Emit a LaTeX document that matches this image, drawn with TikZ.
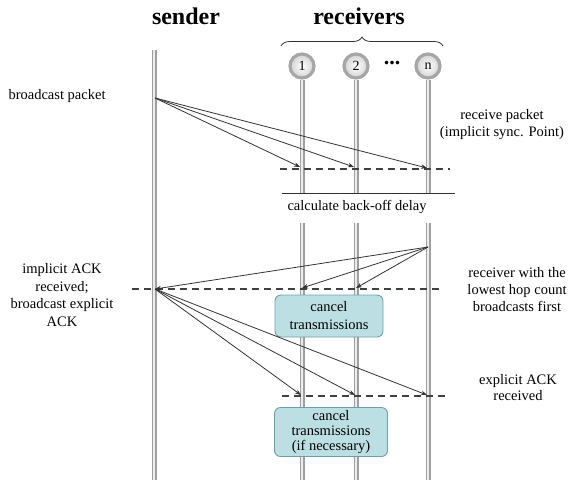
\documentclass[tikz,border=0pt]{standalone}
\usepackage{fontspec}
\setmainfont{Liberation Serif}
\usetikzlibrary{arrows.meta,decorations.pathreplacing}
\definecolor{boxfill}{HTML}{BCDFE3}
\definecolor{boxedge}{HTML}{6E9FA6}
\begin{document}
\begin{tikzpicture}[x=1pt,y=-1pt,
  font=\fontsize{14.5}{17}\selectfont,
  lifeline/.style={draw=gray!75, line width=1.5pt, double=gray!15, double distance=2pt},
  msg/.style={draw=black!80, line width=0.8pt, -{Stealth[length=6pt,width=4.5pt]}},
  sync/.style={draw=black!75, line width=1.6pt, dash pattern=on 7pt off 5pt},
  cbox/.style={draw=boxedge, fill=boxfill, line width=0.9pt, rounded corners=6pt, align=center, inner sep=1pt},
  note/.style={align=center},
  title/.style={font=\bfseries\fontsize{24}{26}\selectfont},
  rnode/.style={circle, minimum size=24pt, inner sep=0pt, draw=gray!70, line width=3.2pt, inner color=white, outer color=gray!35, font=\fontsize{14}{14}\selectfont}
]
\useasboundingbox (0,0) rectangle (569,480);

% titles
\node[title] (ts) at (186,16) {sender};
\node[title] (tr) at (359,16) {receivers};
\coordinate (brl) at (281,46);
\coordinate (brr) at (443,46);
\draw[decorate, decoration={brace, amplitude=9pt}, line width=0.8pt, draw=black!80] (brl) -- (brr);

% receiver nodes
\node[rnode] (r1) at (302,66) {1};
\node[rnode] (r2) at (356,66) {2};
\node[rnode] (rn) at (428,66) {n};
\node[font=\bfseries\fontsize{22}{22}\selectfont, inner sep=0pt] (dots) at (392,63) {...};

% lifelines
\coordinate (st) at (154,50);
\coordinate (sb) at (154,480);
\draw[lifeline] (st) -- (sb);
\foreach \r/\x in {r1/302, r2/356, rn/428}{
  \coordinate (\r a) at (\x,193);
  \coordinate (\r b) at (\x,223);
  \coordinate (\r z) at (\x,480);
  \draw[lifeline] (\r.south) -- (\r a);
  \draw[lifeline] (\r b) -- (\r z);
}

% calculate back-off delay
\coordinate (hl) at (282,193);
\coordinate (hr) at (455,193);
\draw[line width=1pt, draw=black!80] (hl) -- (hr);
\node (tcb) at (357,207) {calculate back-off delay};

% phase 1: broadcast packet
\coordinate (s1) at (155,98);
\coordinate (a1) at (300,167);
\coordinate (a2) at (354,167);
\coordinate (an) at (427,168);
\coordinate (d1l) at (280,169);
\coordinate (d1r) at (450,169);
\draw[sync] (d1l) -- (d1r);
\draw[msg] (s1) -- (a1);
\draw[msg] (s1) -- (a2);
\draw[msg] (s1) -- (an);

% phase 2: implicit ACK
\coordinate (n2) at (428,247);
\coordinate (b1) at (302,288);
\coordinate (b2) at (356,288);
\coordinate (s2) at (155,289);
\coordinate (d2l) at (132,289);
\coordinate (d2r) at (442,289);
\draw[sync] (d2l) -- (d2r);
\draw[msg] (n2) -- (b1);
\draw[msg] (n2) -- (b2);
\draw[msg] (n2) -- (s2);

\node[cbox, minimum width=108pt, minimum height=42pt, font=\fontsize{14.5}{18}\selectfont] (box1) at (329,316) {cancel\\transmissions};

% phase 3: explicit ACK
\coordinate (c1) at (301,395);
\coordinate (c2) at (355,395);
\coordinate (cn) at (427,395);
\coordinate (d3l) at (282,396);
\coordinate (d3r) at (448,396);
\draw[sync] (d3l) -- (d3r);
\draw[msg] (s2) -- (c1);
\draw[msg] (s2) -- (c2);
\draw[msg] (s2) -- (cn);

\node[cbox, minimum width=113pt, minimum height=49pt, font=\fontsize{14.5}{15}\selectfont] (box2) at (331,432) {cancel\\transmissions\\(if necessary)};

% side notes
\node[anchor=west] (tbp) at (5,96) {broadcast packet};
\node[note] (trp) at (502,125) {receive packet\\(implicit sync. Point)};
\node[note, font=\fontsize{14.5}{17.5}\selectfont] (tia) at (62,295) {implicit ACK\\received;\\broadcast explicit\\ACK};
\node[note] (tlh) at (517,290) {receiver with the\\lowest hop count\\broadcasts first};
\node[note, font=\fontsize{14.5}{16}\selectfont] (tea) at (518,388) {explicit ACK\\received};
\end{tikzpicture}
\end{document}
